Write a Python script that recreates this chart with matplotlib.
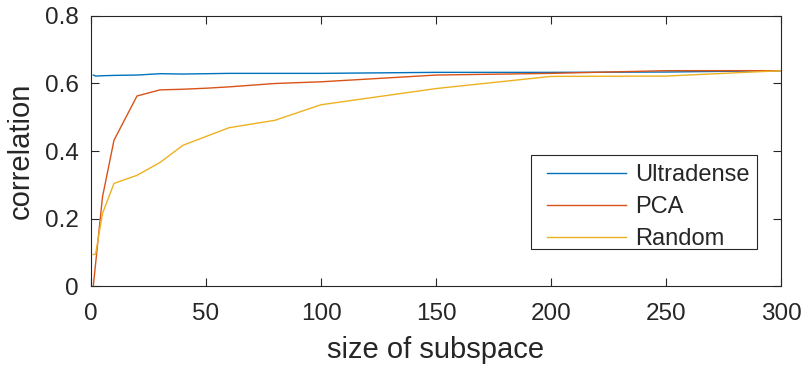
import numpy as np
import matplotlib
matplotlib.use("Agg")
import matplotlib.pyplot as plt
from matplotlib.patches import Rectangle

# subspace sizes and correlations
ultra_x = [1, 2, 5, 10, 20, 30, 40, 50, 60, 80, 100, 150, 200, 250, 300]
ultra_y = [0.625, 0.622, 0.623, 0.624, 0.625, 0.629, 0.628, 0.629, 0.630,
           0.630, 0.630, 0.633, 0.633, 0.634, 0.638]

pca_x = [1, 5, 10, 20, 30, 40, 50, 60, 80, 100, 150, 200, 250, 300]
pca_y = [0.0, 0.264, 0.432, 0.563, 0.581, 0.583, 0.586, 0.590, 0.600,
         0.605, 0.625, 0.630, 0.638, 0.638]

rand_x = [1, 2, 5, 10, 20, 30, 40, 60, 80, 100, 150, 200, 250, 300]
rand_y = [0.093, 0.095, 0.215, 0.304, 0.328, 0.366, 0.417, 0.469, 0.491,
          0.537, 0.585, 0.621, 0.622, 0.638]

xticks = [0, 50, 100, 150, 200, 250, 300]
yticks = [0, 0.2, 0.4, 0.6, 0.8]
ytick_labels = ['0', '0.2', '0.4', '0.6', '0.8']

plt.rcParams['font.family'] = ['Liberation Sans', 'DejaVu Sans']
axcol = (0.15, 0.15, 0.15)

fig = plt.figure(figsize=(8.06, 3.65), dpi=100)
ax = fig.add_axes([0.1129, 0.2164, 0.8561, 0.7398])

ax.plot(ultra_x, ultra_y, color='#0072BD', lw=1.0, label='Ultradense')
ax.plot(pca_x, pca_y, color='#D95319', lw=1.0, label='PCA')
ax.plot(rand_x, rand_y, color='#EDB120', lw=1.0, label='Random')

ax.set_xlim(0, 300)
ax.set_ylim(0, 0.8)
ax.set_xticks(xticks)
ax.set_yticks(yticks)
ax.set_yticklabels(ytick_labels)
ax.tick_params(direction='in', top=True, right=True, labelsize=17.5,
               colors=axcol, length=6, width=0.8)
ax.tick_params(axis='y', pad=9)
ax.tick_params(axis='x', pad=12)
for s in ax.spines.values():
    s.set_color(axcol)
    s.set_linewidth(0.8)

ax.set_xlabel('size of subspace', fontsize=21, color=axcol, labelpad=8)
ax.set_ylabel('correlation', fontsize=21, color=axcol, labelpad=7)

# MATLAB-style legend box: white frame drawn separately, entries on top
box = Rectangle((0.6377, 0.137), 0.3275, 0.347, transform=ax.transAxes,
                facecolor='white', edgecolor=axcol, lw=0.8, zorder=4)
ax.add_patch(box)
leg = ax.legend(loc='center left', bbox_to_anchor=(0.6609, 0.2915), fontsize=17,
                frameon=False, handlelength=3.35, borderpad=0, labelspacing=0.42,
                handletextpad=0.4, borderaxespad=0)
leg.set_zorder(5)
for t in leg.get_texts():
    t.set_color(axcol)

fig.savefig('out.png', dpi=100)
